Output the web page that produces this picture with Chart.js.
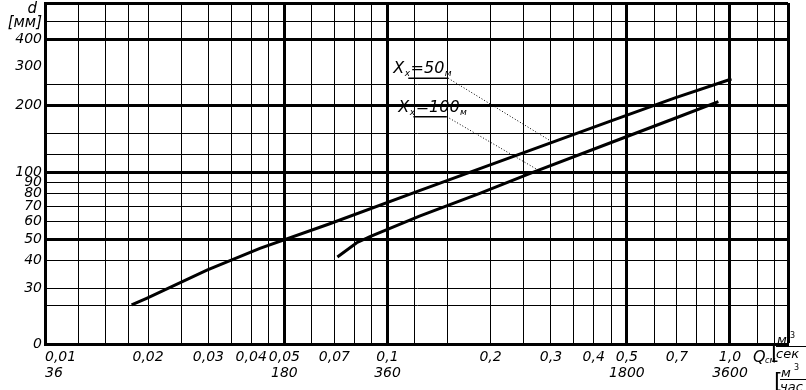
<!DOCTYPE html>
<html>
<head>
<meta charset="utf-8">
<script src="https://cdn.jsdelivr.net/npm/chart.js@4.4.0/dist/chart.umd.min.js"></script>
<style>
  html, body { margin: 0; padding: 0; background: #fff; }
  #wrap { width: 806px; height: 390px; }
</style>
</head>
<body>
<div id="wrap"><canvas id="chart" width="806" height="390"></canvas></div>
<script>
// Q [m3/s] against pipe diameter d [mm] (log-log)
const qRange = [0.01, 1.477];
const dRange = [16.78, 582];

// curve Xx = 50 m
const q50 = [0.0179, 0.0198, 0.0297, 0.0424, 0.0672, 0.124, 0.228, 0.456, 0.691, 1.01];
const d50 = [25.2, 27.0, 36.2, 45.4, 58.3, 82.7, 116.5, 172, 217, 264];

// curve Xx = 100 m
const q100 = [0.0714, 0.0813, 0.0889, 0.124, 0.186, 0.261, 0.456, 0.691, 0.925];
const d100 = [41.5, 48.1, 51.2, 63.5, 80.4, 99.0, 137.5, 175.5, 208.5];

// caption leaders: underline start, underline end, point on the curve
const lead50Q = [0.115, 0.1505, 0.302];
const lead50D = [266, 266, 137.5];
const lead100Q = [0.119, 0.149, 0.273];
const lead100D = [178.4, 178.4, 103.2];
const captionValues = ['=50', '=100'];

// axis ticks
const qTicks = [0.01, 0.02, 0.03, 0.04, 0.05, 0.07, 0.1, 0.2, 0.3, 0.4, 0.5, 0.7, 1.0];
const qLabels = ['0,01', '0,02', '0,03', '0,04', '0,05', '0,07', '0,1', '0,2', '0,3', '0,4', '0,5', '0,7', '1,0'];
const hourLabels = ['36', '', '', '', '180', '', '360', '', '', '', '1800', '', '3600'];
const qGrid = [0.0125, 0.015, 0.0175, 0.025, 0.035, 0.045, 0.06, 0.08, 0.09, 0.12, 0.15, 0.25, 0.35, 0.45, 0.6, 0.8, 0.9, 1.2, 1.35];
const qBold = [0.05, 0.1, 0.5, 1.0];

const dTicks = [400, 300, 200, 100, 90, 80, 70, 60, 50, 40, 30];
const dGrid = [25, 120, 150, 250, 480];
const dBold = [50, 100, 200, 400];
const dNoLine = [300];

const FONT = '"DejaVu Sans", sans-serif';

function pts(xs, ys) {
  return xs.map((v, i) => ({ x: v, y: ys[i] }));
}

function tickList(range, a, b) {
  const all = [range[0], ...a, ...b, range[1]];
  return [...new Set(all)].sort((p, q) => p - q).map(v => ({ value: v }));
}

function caption(ctx, px, py, value) {
  const parts = [['X', false], ['х', true], [value, false], ['м', true]];
  let cx = px - 15;
  parts.forEach(([t, small]) => {
    ctx.font = small ? 'italic 9px ' + FONT : 'italic 16px ' + FONT;
    ctx.fillText(t, cx, small ? py - 2 : py - 5);
    cx += ctx.measureText(t).width + 0.5;
  });
}

const paper = {
  id: 'paper',
  beforeDraw(chart) {
    const ctx = chart.ctx;
    ctx.save();
    ctx.fillStyle = '#fff';
    ctx.fillRect(0, 0, chart.width, chart.height);
    ctx.restore();
  },
  afterDatasetsDraw(chart) {
    const { ctx, scales: { x, y } } = chart;
    ctx.save();
    ctx.fillStyle = '#000';
    ctx.textAlign = 'left';
    ctx.textBaseline = 'alphabetic';
    caption(ctx, x.getPixelForValue(lead50Q[0]), y.getPixelForValue(lead50D[0]), captionValues[0]);
    caption(ctx, x.getPixelForValue(lead100Q[0]), y.getPixelForValue(lead100D[0]), captionValues[1]);
    ctx.restore();
  },
  afterDraw(chart) {
    const { ctx, chartArea: a } = chart;
    ctx.save();
    ctx.fillStyle = '#000';
    ctx.strokeStyle = '#000';
    ctx.textBaseline = 'alphabetic';

    // d [мм]
    ctx.textAlign = 'right';
    ctx.font = 'italic 15px ' + FONT;
    ctx.fillText('d', a.left - 8, a.top + 10);
    ctx.fillText('[мм]', a.left - 3, a.top + 24);

    // Q см [м3/сек] and [м3/час]
    ctx.textAlign = 'left';
    const r = a.right, b = a.bottom;
    ctx.font = 'italic 16px ' + FONT;
    ctx.fillText('Q', r - 35, b + 18);
    ctx.font = 'italic 8px ' + FONT;
    ctx.fillText('см', r - 23, b + 19);
    ctx.font = '22px ' + FONT;
    ctx.fillText('[', r - 17, b + 15);
    ctx.font = 'italic 13px ' + FONT;
    ctx.fillText('м', r - 11, b + 0);
    ctx.fillText('сек', r - 12, b + 14);
    ctx.font = '8px ' + FONT;
    ctx.fillText('3', r + 2, b - 6);
    ctx.lineWidth = 1;
    ctx.beginPath();
    ctx.moveTo(r - 12, b + 2.5);
    ctx.lineTo(r + 18, b + 2.5);
    ctx.stroke();

    ctx.font = '22px ' + FONT;
    ctx.fillText('[', r - 14, b + 44);
    ctx.font = 'italic 13px ' + FONT;
    ctx.fillText('м', r - 7, b + 33);
    ctx.fillText('час', r - 8, b + 47);
    ctx.font = '8px ' + FONT;
    ctx.fillText('3', r + 6, b + 26);
    ctx.beginPath();
    ctx.moveTo(r - 8, b + 35.5);
    ctx.lineTo(r + 18, b + 35.5);
    ctx.stroke();
    ctx.restore();
  }
};

new Chart(document.getElementById('chart'), {
  type: 'line',
  data: {
    datasets: [
      { data: pts(q50, d50), borderColor: '#000', borderWidth: 3, pointRadius: 0 },
      { data: pts(q100, d100), borderColor: '#000', borderWidth: 3, pointRadius: 0 },
      { data: pts(lead50Q.slice(0, 2), lead50D.slice(0, 2)), borderColor: '#000', borderWidth: 1.5, pointRadius: 0 },
      { data: pts(lead50Q.slice(1), lead50D.slice(1)), borderColor: '#000', borderWidth: 1, borderDash: [1, 2], pointRadius: 0 },
      { data: pts(lead100Q.slice(0, 2), lead100D.slice(0, 2)), borderColor: '#000', borderWidth: 1.5, pointRadius: 0 },
      { data: pts(lead100Q.slice(1), lead100D.slice(1)), borderColor: '#000', borderWidth: 1, borderDash: [1, 2], pointRadius: 0 }
    ]
  },
  options: {
    responsive: false,
    animation: false,
    layout: { padding: { top: 3, right: 18, left: 0, bottom: 0 } },
    plugins: { legend: { display: false }, tooltip: { enabled: false } },
    scales: {
      x: {
        type: 'logarithmic',
        min: qRange[0],
        max: qRange[1],
        afterBuildTicks: s => { s.ticks = tickList(qRange, qGrid, qTicks); },
        afterFit: s => { s.height = 46; s.paddingLeft = 0; s.paddingRight = 0; },
        border: { display: true, width: 3, color: '#000' },
        grid: {
          drawTicks: false,
          color: '#000',
          lineWidth: c => (qBold.includes(c.tick.value) || c.tick.value === qRange[1]) ? 3 : 1
        },
        ticks: {
          autoSkip: false,
          maxRotation: 0,
          minRotation: 0,
          align: 'inner',
          padding: 5,
          color: '#000',
          font: { family: FONT, style: 'italic', size: 14, lineHeight: '16px' },
          callback: v => {
            const i = qTicks.indexOf(v);
            if (i < 0) return '';
            return hourLabels[i] ? [qLabels[i], hourLabels[i]] : qLabels[i];
          }
        }
      },
      y: {
        type: 'logarithmic',
        min: dRange[0],
        max: dRange[1],
        afterBuildTicks: s => { s.ticks = tickList(dRange, dGrid, dTicks); },
        afterFit: s => { s.width = 45; s.paddingTop = 0; s.paddingBottom = 0; },
        border: { display: true, width: 3, color: '#000' },
        grid: {
          drawTicks: false,
          color: c => dNoLine.includes(c.tick.value) ? 'rgba(0,0,0,0)' : '#000',
          lineWidth: c => (dBold.includes(c.tick.value) || c.tick.value === dRange[1]) ? 3 : 1
        },
        ticks: {
          autoSkip: false,
          padding: 3,
          color: '#000',
          font: { family: FONT, style: 'italic', size: 14 },
          callback: v => {
            if (v === dRange[0]) return '0';
            return dTicks.includes(v) ? String(v) : '';
          }
        }
      }
    }
  },
  plugins: [paper]
});
</script>
</body>
</html>
